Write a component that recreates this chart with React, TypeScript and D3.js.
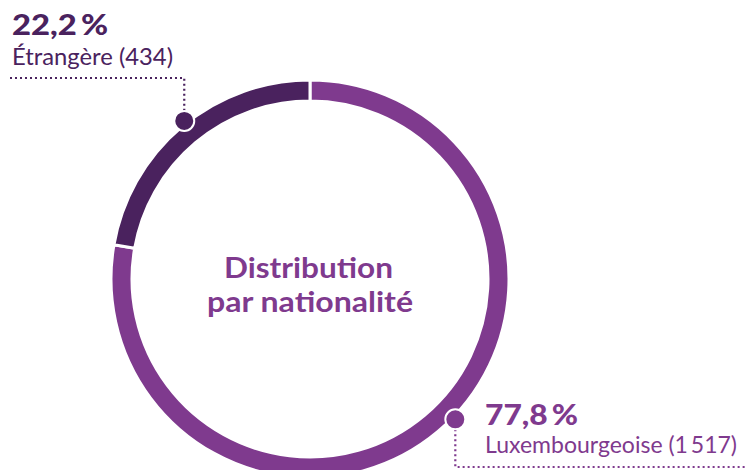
import React from "react";
import * as d3 from "d3";

const categories = ["Luxembourgeoise", "Étrangère"];
const counts = [1517, 434];
const percentLabels = ["77,8\u2009%", "22,2\u2009%"];
const countLabels = ["1\u2009517", "434"];
const colors = ["#7f3a8e", "#4a225e"];
const centerTitle = ["Distribution", "par nationalité"];

// layout constants (not data)
const W = 746;
const H = 470;
const CX = 310;
const CY = 279;
const R_OUT = 199;
const R_IN = 178;
const markerAngleDeg = [134, 321.5];

export default function App() {
  const pie = d3
    .pie<number>()
    .sort(null)
    .value((d) => d)
    .startAngle(0)
    .endAngle(2 * Math.PI);
  const arcs = pie(counts);
  const arcGen = d3.arc<d3.PieArcDatum<number>>().innerRadius(R_IN).outerRadius(R_OUT);

  const markerPos = markerAngleDeg.map((deg) => {
    const a = (deg * Math.PI) / 180;
    return [CX + (R_OUT + 3) * Math.sin(a), CY - (R_OUT + 3) * Math.cos(a)];
  });

  const font = "Lato, 'Open Sans', sans-serif";
  const [lx, ly] = markerPos[0];
  const [dx, dy] = markerPos[1];

  return (
    <svg
      width={W}
      height={H}
      style={{ position: "absolute", left: 0, top: 0, background: "#fff" }}
    >
      <g transform={`translate(${CX},${CY})`}>
        {arcs.map((a, i) => (
          <path key={i} d={arcGen(a) || ""} fill={colors[i]} stroke="#fff" strokeWidth={3} />
        ))}
      </g>

      {/* centre title */}
      <text
        x={224}
        y={278}
        fill={colors[0]}
        fontFamily={font}
        fontWeight={700}
        fontSize={28.5}
        textLength={169}
        lengthAdjust="spacingAndGlyphs"
      >
        {centerTitle[0]}
      </text>
      <text
        x={207}
        y={312}
        fill={colors[0]}
        fontFamily={font}
        fontWeight={700}
        fontSize={28.5}
        textLength={206}
        lengthAdjust="spacingAndGlyphs"
      >
        {centerTitle[1]}
      </text>

      {/* Étrangère leader */}
      <path
        d={`M${10},78 H${dx} V${dy - 10}`}
        fill="none"
        stroke={colors[1]}
        strokeWidth={2.2}
        strokeDasharray="2 3"
      />
      <circle cx={dx} cy={dy} r={10} fill={colors[1]} stroke="#fff" strokeWidth={2} />
      <text
        x={12}
        y={35}
        fill={colors[1]}
        fontFamily={font}
        fontWeight={900}
        fontSize={29}
        textLength={96}
        lengthAdjust="spacingAndGlyphs"
      >
        {percentLabels[1]}
      </text>
      <text
        x={12}
        y={65}
        fill={colors[1]}
        fontFamily={font}
        fontWeight={400}
        fontSize={23}
        textLength={161}
        lengthAdjust="spacingAndGlyphs"
      >
        {`${categories[1]} (${countLabels[1]})`}
      </text>

      {/* Luxembourgeoise leader */}
      <path
        d={`M${lx},${ly + 10} V467 H${W}`}
        fill="none"
        stroke={colors[0]}
        strokeWidth={2.2}
        strokeDasharray="2 3"
      />
      <circle cx={lx} cy={ly} r={10} fill={colors[0]} stroke="#fff" strokeWidth={2} />
      <text
        x={485}
        y={425}
        fill={colors[0]}
        fontFamily={font}
        fontWeight={900}
        fontSize={29}
        textLength={93}
        lengthAdjust="spacingAndGlyphs"
      >
        {percentLabels[0]}
      </text>
      <text
        x={485}
        y={453}
        fill={colors[0]}
        fontFamily={font}
        fontWeight={400}
        fontSize={23}
        textLength={252}
        lengthAdjust="spacingAndGlyphs"
      >
        {`${categories[0]} (${countLabels[0]})`}
      </text>
    </svg>
  );
}
